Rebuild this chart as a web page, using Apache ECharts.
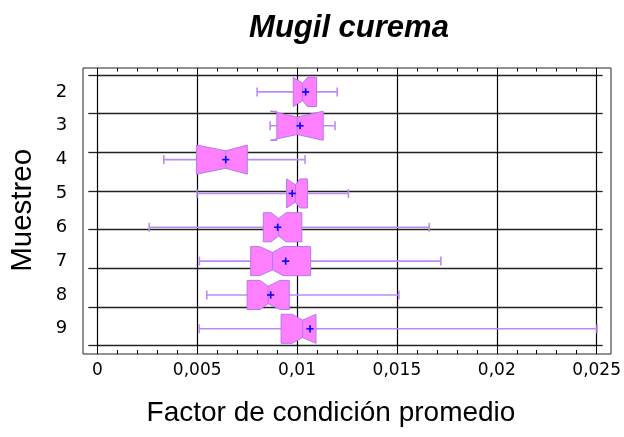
<!DOCTYPE html>
<html>
<head>
<meta charset="utf-8">
<script src="https://cdn.jsdelivr.net/npm/echarts@6/dist/echarts.min.js"></script>
<style>
html,body{margin:0;padding:0;background:#fff;}
#c{width:624px;height:437px;}
</style>
</head>
<body>
<div id="c"></div>
<script>
// Data
var categories   = ['2','3','4','5','6','7','8','9'];
var whiskerLow   = [0.00800, 0.00865, 0.00333, 0.00499, 0.00260, 0.00511, 0.00548, 0.00510];
var q1           = [0.00981, 0.00899, 0.00497, 0.00948, 0.00831, 0.00768, 0.00750, 0.00920];
var notchLow     = [0.00981, 0.00865, 0.00497, 0.00948, 0.00870, 0.00813, 0.00815, 0.00975];
var median       = [0.01028, 0.01001, 0.00643, 0.00992, 0.00908, 0.00877, 0.00855, 0.01028];
var notchHigh    = [0.01052, 0.01131, 0.00751, 0.01015, 0.00945, 0.00931, 0.00915, 0.01095];
var q3           = [0.01098, 0.01131, 0.00751, 0.01052, 0.01024, 0.01068, 0.00961, 0.01095];
var whiskerHigh  = [0.01201, 0.01190, 0.01040, 0.01257, 0.01662, 0.01720, 0.01510, 0.02502];
var means        = [0.01043, 0.01015, 0.00643, 0.00976, 0.00903, 0.00943, 0.00868, 0.01065];
var xTickLabels  = {'0':'0','0.005':'0,005','0.01':'0,01','0.015':'0,015','0.02':'0,02','0.025':'0,025'};

var boxData = categories.map(function (c, i) {
  return [i, whiskerLow[i], q1[i], notchLow[i], median[i], notchHigh[i], q3[i], whiskerHigh[i], means[i]];
});

var FONT = 'DejaVu Sans';
var TFONT = 'Liberation Sans';
var FILL = '#FF80FF', EDGE = '#B478F0', WHISK = '#BC8CF4', MEANC = '#0000FF';

function renderBox(params, api) {
  var ci = api.value(0);
  var band = api.size([0, 1])[1];
  var h = band * 0.86, d = h * 0.2;
  var cy = api.coord([0, ci])[1];
  var top = cy - h / 2, bot = cy + h / 2;
  function X(k) { return api.coord([api.value(k), ci])[0]; }
  var wl = X(1), b1 = X(2), nl = X(3), md = X(4), nh = X(5), b3 = X(6), wh = X(7), mn = X(8);
  var cap = 4.5, ms = 3.6;
  return {
    type: 'group',
    children: [
      {type: 'line', shape: {x1: wl, y1: cy, x2: wh, y2: cy}, style: {stroke: WHISK, lineWidth: 1.6}},
      {type: 'line', shape: {x1: wl, y1: cy - cap, x2: wl, y2: cy + cap}, style: {stroke: WHISK, lineWidth: 1.6}},
      {type: 'line', shape: {x1: wh, y1: cy - cap, x2: wh, y2: cy + cap}, style: {stroke: WHISK, lineWidth: 1.6}},
      {type: 'polygon', shape: {points: [
        [b1, top], [nl, top], [md, top + d], [nh, top], [b3, top],
        [b3, bot], [nh, bot], [md, bot - d], [nl, bot], [b1, bot]
      ]}, style: {fill: FILL, stroke: EDGE, lineWidth: 1}},
      {type: 'line', shape: {x1: md, y1: top + d, x2: md, y2: bot - d}, style: {stroke: EDGE, lineWidth: 1}},
      {type: 'line', shape: {x1: mn - ms, y1: cy, x2: mn + ms, y2: cy}, style: {stroke: MEANC, lineWidth: 1.6}},
      {type: 'line', shape: {x1: mn, y1: cy - ms, x2: mn, y2: cy + ms}, style: {stroke: MEANC, lineWidth: 1.6}}
    ]
  };
}

var chart = echarts.init(document.getElementById('c'), null, {renderer: 'canvas'});
chart.setOption({
  animation: false,
  backgroundColor: '#fff',
  textStyle: {fontFamily: FONT},
  title: {
    text: 'Mugil curema', left: 344, top: 8, textAlign: 'center',
    textStyle: {fontFamily: TFONT, fontSize: 31, fontWeight: 'bold', fontStyle: 'italic', color: '#000'}
  },
  grid: [
    {left: 97.3, right: 27.3, top: 75, bottom: 91.3, show: false},
    {left: 83, right: 13, top: 68, bottom: 83, show: true, borderColor: '#222', borderWidth: 1, backgroundColor: 'transparent', z: 0}
  ],
  xAxis: [
    {
      gridIndex: 0, type: 'value', position: 'bottom', offset: 8.3,
      min: 0, max: 0.025, interval: 0.005,
      axisLine: {show: false, onZero: false},
      axisTick: {show: true, inside: true, length: 8.3, lineStyle: {color: '#000', width: 1}},
      minorTick: {show: true, splitNumber: 5, length: 4, lineStyle: {color: '#000', width: 1}},
      splitLine: {show: true, lineStyle: {color: '#000', width: 1.2}},
      axisLabel: {
        margin: 8, fontFamily: FONT, fontSize: 17, color: '#000',
        formatter: function (v) { var k = String(+v.toFixed(4)); return xTickLabels[k] !== undefined ? xTickLabels[k] : k.replace('.', ','); }
      },
      name: 'Factor de condición promedio', nameLocation: 'middle', nameGap: 45,
      nameTextStyle: {fontFamily: TFONT, fontSize: 28, color: '#000', padding: [0, 32, 0, 0]}
    },
    {
      gridIndex: 0, type: 'value', position: 'top', offset: 7,
      min: 0, max: 0.025, interval: 0.005,
      axisLine: {show: false, onZero: false},
      axisTick: {show: true, inside: true, length: 7, lineStyle: {color: '#000', width: 1}},
      minorTick: {show: true, splitNumber: 5, length: 3.5, lineStyle: {color: '#000', width: 1}},
      splitLine: {show: false},
      axisLabel: {show: false}
    },
    {gridIndex: 1, type: 'value', show: false, min: 0, max: 1, axisLine: {onZero: false}}
  ],
  yAxis: [
    {
      gridIndex: 0, type: 'category', data: categories, inverse: true, position: 'left',
      boundaryGap: true,
      axisLine: {show: false, onZero: false}, axisTick: {show: false}, splitLine: {show: false},
      axisLabel: {margin: 30, fontFamily: FONT, fontSize: 18, color: '#000', padding: [4, 0, 0, 0]},
      name: 'Muestreo', nameLocation: 'middle', nameGap: 59, nameRotate: 90,
      nameTextStyle: {fontFamily: TFONT, fontSize: 29.5, color: '#000'}
    },
    {
      gridIndex: 0, type: 'value', position: 'left', min: 0, max: 7, interval: 1,
      axisLine: {show: false, onZero: false},
      axisTick: {show: true, inside: false, length: 9, lineStyle: {color: '#222', width: 1.3}},
      splitLine: {show: true, lineStyle: {color: '#222', width: 1.3}},
      axisLabel: {show: false}
    },
    {
      gridIndex: 0, type: 'value', position: 'right', min: 0, max: 7, interval: 1,
      axisLine: {show: false, onZero: false},
      axisTick: {show: true, inside: false, length: 6, lineStyle: {color: '#222', width: 1.3}},
      splitLine: {show: false},
      axisLabel: {show: false}
    },
    {gridIndex: 1, type: 'value', show: false, min: 0, max: 1, axisLine: {onZero: false}}
  ],
  series: [{
    type: 'custom',
    xAxisIndex: 0, yAxisIndex: 0,
    clip: false,
    renderItem: renderBox,
    encode: {x: [1, 2, 3, 4, 5, 6, 7, 8], y: 0},
    data: boxData,
    z: 5
  }]
});
</script>
</body>
</html>
